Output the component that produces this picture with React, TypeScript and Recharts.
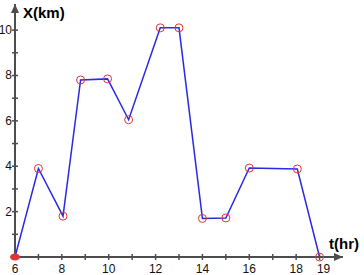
import React from 'react';
import { LineChart, Line, XAxis, YAxis, ReferenceDot } from 'recharts';

const HOURS = [6, 7, 8.05, 8.8, 9.95, 10.85, 12.2, 13.0, 14, 15, 16, 18.05, 19];
const DIST = [0, 3.9, 1.8, 7.8, 7.85, 6.05, 10.1, 10.1, 1.7, 1.72, 3.92, 3.88, 0];
const X_TICKS = [6, 7, 8, 9, 10, 11, 12, 13, 14, 15, 16, 17, 18, 19];
const X_LABELS = [6, 8, 10, 12, 14, 16, 18, 19];
const Y_TICKS = [1, 2, 3, 4, 5, 6, 7, 8, 9, 10];
const Y_LABELS = [2, 4, 6, 8, 10];

const data = HOURS.map((t, i) => ({ t, x: DIST[i] }));

const AXIS = '#4d4d4d';
const LINE = '#2a2ae6';
const RED = '#e23434';
const FONT = '"Liberation Sans", Arial, sans-serif';

const XTick = (props: any) => {
  const { x, y, payload } = props;
  const v = payload.value;
  return (
    <g>
      {v !== 6 && <line x1={x} x2={x} y1={y - 3} y2={y + 3} stroke={AXIS} strokeWidth={1.5} />}
      {X_LABELS.includes(v) && (
        <text x={v === 19 ? x + 4 : x} y={y + 16} textAnchor="middle" fontSize={12} fontFamily={FONT} fill="#111">
          {v}
        </text>
      )}
    </g>
  );
};

const YTick = (props: any) => {
  const { x, y, payload } = props;
  const v = payload.value;
  return (
    <g>
      <line x1={x - 3} x2={x + 3} y1={y} y2={y} stroke={AXIS} strokeWidth={1.5} />
      {Y_LABELS.includes(v) && (
        <text x={x - 3} y={y} dy={4} textAnchor="end" fontSize={12} fontFamily={FONT} fill="#111">
          {v}
        </text>
      )}
    </g>
  );
};

const Dot = (props: any) => {
  const { cx, cy, index } = props;
  if (index === 0) return <ellipse key={index} cx={cx} cy={cy} rx={5} ry={3.5} fill={RED} />;
  return <circle key={index} cx={cx} cy={cy} r={4} fill="none" stroke={RED} strokeWidth={1} />;
};

const ArrowRight = (props: any) => {
  const { cx, cy } = props;
  return <polygon points={`${cx},${cy} ${cx - 9},${cy - 4} ${cx - 9},${cy + 4}`} fill={AXIS} />;
};

const ArrowUp = (props: any) => {
  const { cx, cy } = props;
  return <polygon points={`${cx},${cy} ${cx - 4},${cy + 9} ${cx + 4},${cy + 9}`} fill={AXIS} />;
};

export default function App() {
  return (
    <div style={{ position: 'relative', width: 364, height: 275, background: '#fff' }}>
      <style>{'body{margin:0}'}</style>
      <LineChart width={364} height={275} data={data} margin={{ top: 4, right: 21, left: 0, bottom: 0 }}>
        <XAxis
          dataKey="t"
          type="number"
          domain={[6, 20]}
          ticks={X_TICKS}
          interval={0}
          height={18}
          tickSize={0}
          tickMargin={0}
          tickLine={false}
          axisLine={{ stroke: AXIS, strokeWidth: 2 }}
          tick={<XTick />}
        />
        <YAxis
          type="number"
          domain={[0, 11.15]}
          ticks={Y_TICKS}
          interval={0}
          width={15}
          tickSize={0}
          tickMargin={0}
          tickLine={false}
          axisLine={{ stroke: AXIS, strokeWidth: 2 }}
          tick={<YTick />}
        />
        <Line
          type="linear"
          dataKey="x"
          stroke={LINE}
          strokeWidth={1.5}
          dot={<Dot />}
          activeDot={false}
          isAnimationActive={false}
        />
        <ReferenceDot x={20} y={0} ifOverflow="visible" shape={<ArrowRight />} />
        <ReferenceDot x={6} y={11.15} ifOverflow="visible" shape={<ArrowUp />} />
      </LineChart>
      <div style={{ position: 'absolute', left: 23, top: 5, font: `bold 15px ${FONT}`, lineHeight: '15px', color: '#000' }}>
        X(km)
      </div>
      <div style={{ position: 'absolute', left: 329, top: 236, font: `bold 15px ${FONT}`, lineHeight: '15px', color: '#000' }}>
        t(hr)
      </div>
    </div>
  );
}
